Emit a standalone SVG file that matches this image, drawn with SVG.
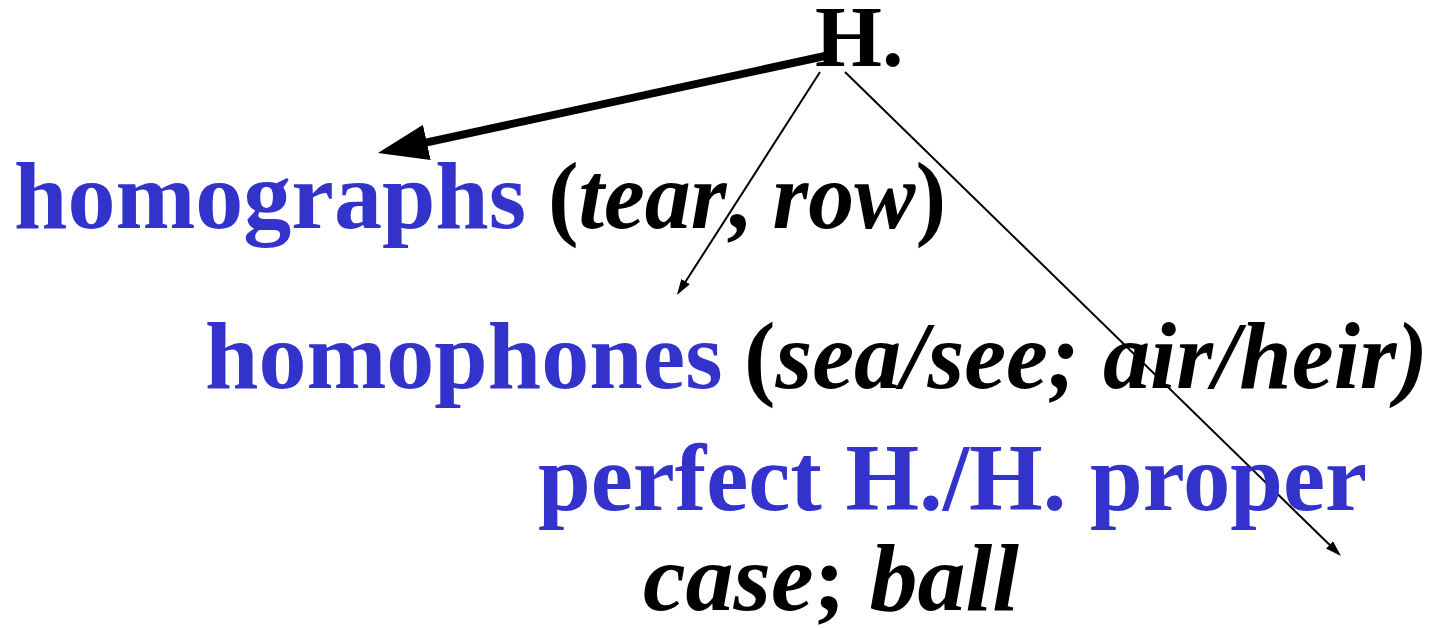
<svg xmlns="http://www.w3.org/2000/svg" width="1434" height="628" viewBox="0 0 1434 628">
<style>
text{font-family:"Liberation Serif","Times New Roman",serif;font-weight:bold;font-size:96px;fill:#000}
.b{fill:#3333CC}
.i{font-style:italic}
</style>
<defs>
<marker id="big" markerUnits="userSpaceOnUse" viewBox="0 0 50 36" refX="20" refY="18" markerWidth="50" markerHeight="36" orient="auto"><path d="M0,0 L50,18 L0,36 z" fill="#000"/></marker>
<marker id="small" markerUnits="userSpaceOnUse" viewBox="0 0 16 10" refX="10" refY="5" markerWidth="16" markerHeight="10" orient="auto"><path d="M0,0 L16,5 L0,10 z" fill="#000"/></marker>
</defs>
<rect width="1434" height="628" fill="#fff"/>
<g id="connectors" stroke="#000" fill="none">
<line x1="825" y1="56" x2="407.3" y2="146.6" stroke-width="8" marker-end="url(#big)"/>
<line x1="820" y1="72" x2="680.2" y2="290" stroke-width="2" marker-end="url(#small)"/>
<line x1="845" y1="72" x2="1336.7" y2="551.8" stroke-width="2" marker-end="url(#small)"/>
</g>
<g id="root"><text x="815" y="66" style="font-size:86px">H.</text></g>
<g id="homographs"><text x="14" y="228" class="b">homographs</text><text x="548" y="228" textLength="398" lengthAdjust="spacingAndGlyphs">(<tspan class="i">tear</tspan>, <tspan class="i">row</tspan>)</text></g>
<g id="homophones"><text x="205" y="388" class="b">homophones</text><text x="744" y="388" textLength="684" lengthAdjust="spacingAndGlyphs">(<tspan class="i">sea/see; air/heir)</tspan></text></g>
<g id="perfect"><text x="538" y="510" class="b" textLength="829" lengthAdjust="spacingAndGlyphs">perfect H./H. proper</text><text x="643" y="610"><tspan class="i">case</tspan>; <tspan class="i">ball</tspan></text></g>
</svg>
